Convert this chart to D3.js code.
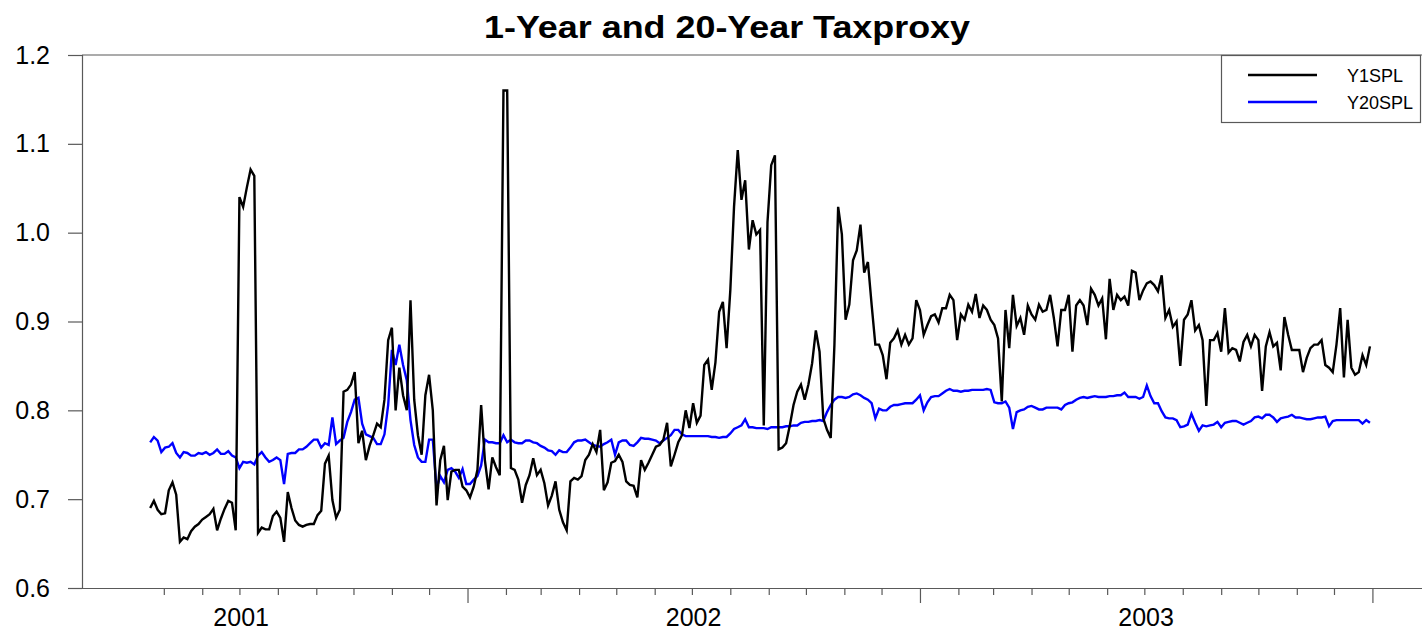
<!DOCTYPE html>
<html>
<head>
<meta charset="utf-8">
<script src="https://cdn.jsdelivr.net/npm/d3@7"></script>
<style>
  html, body { margin: 0; padding: 0; background: #fff; }
  svg { display: block; font-family: "Liberation Sans", Arial, sans-serif; }
</style>
</head>
<body>
<div id="chart"></div>
<script>
// Observations every 3 days, starting 20 Apr 2001
const firstObs = Date.UTC(2001, 3, 20);
const stepDays = 3;

const seriesNames = ["Y1SPL", "Y20SPL"];
const seriesColors = ["#000000", "#0000ff"];

const y1spl = [
  0.690, 0.698, 0.688, 0.683, 0.684, 0.710, 0.719, 0.705, 0.652, 0.657,
  0.655, 0.664, 0.669, 0.672, 0.677, 0.680, 0.683, 0.689, 0.665, 0.678,
  0.689, 0.698, 0.696, 0.665, 1.040, 1.029, 1.051, 1.071, 1.064, 0.662,
  0.668, 0.666, 0.666, 0.681, 0.686, 0.679, 0.652, 0.708, 0.690, 0.676,
  0.671, 0.669, 0.671, 0.672, 0.672, 0.682, 0.687, 0.740, 0.749, 0.699,
  0.679, 0.688, 0.821, 0.823, 0.829, 0.843, 0.763, 0.777, 0.744, 0.760,
  0.772, 0.785, 0.781, 0.812, 0.879, 0.893, 0.800, 0.848, 0.817, 0.800,
  0.924, 0.812, 0.772, 0.750, 0.817, 0.840, 0.800, 0.693, 0.744, 0.760,
  0.699, 0.731, 0.733, 0.733, 0.714, 0.710, 0.702, 0.714, 0.733, 0.806,
  0.744, 0.711, 0.747, 0.736, 0.727, 1.160, 1.160, 0.735, 0.733, 0.722,
  0.696, 0.716, 0.727, 0.746, 0.727, 0.733, 0.718, 0.693, 0.704, 0.720,
  0.688, 0.674, 0.665, 0.720, 0.724, 0.722, 0.726, 0.744, 0.750, 0.762,
  0.753, 0.778, 0.710, 0.719, 0.741, 0.743, 0.750, 0.742, 0.720, 0.716,
  0.715, 0.702, 0.744, 0.733, 0.741, 0.750, 0.759, 0.761, 0.767, 0.786,
  0.737, 0.750, 0.764, 0.772, 0.800, 0.780, 0.808, 0.786, 0.794, 0.851,
  0.857, 0.823, 0.854, 0.911, 0.922, 0.870, 0.935, 1.029, 1.093, 1.037,
  1.059, 0.981, 1.014, 0.998, 1.003, 0.783, 1.012, 1.076, 1.087, 0.756,
  0.758, 0.763, 0.783, 0.806, 0.821, 0.829, 0.812, 0.829, 0.853, 0.890,
  0.866, 0.791, 0.778, 0.769, 0.874, 1.029, 0.998, 0.902, 0.919, 0.969,
  0.980, 1.009, 0.955, 0.967, 0.919, 0.874, 0.874, 0.862, 0.835, 0.876,
  0.881, 0.890, 0.874, 0.885, 0.874, 0.881, 0.924, 0.913, 0.885, 0.896,
  0.906, 0.908, 0.899, 0.915, 0.915, 0.930, 0.924, 0.879, 0.908, 0.902,
  0.919, 0.911, 0.931, 0.904, 0.918, 0.913, 0.902, 0.896, 0.881, 0.810,
  0.913, 0.870, 0.930, 0.895, 0.904, 0.885, 0.918, 0.908, 0.902, 0.919,
  0.911, 0.913, 0.930, 0.904, 0.872, 0.913, 0.913, 0.930, 0.866, 0.918,
  0.924, 0.918, 0.896, 0.937, 0.930, 0.918, 0.926, 0.880, 0.948, 0.913,
  0.930, 0.924, 0.928, 0.918, 0.957, 0.955, 0.924, 0.935, 0.943, 0.945,
  0.941, 0.934, 0.952, 0.904, 0.913, 0.894, 0.900, 0.850, 0.902, 0.908,
  0.924, 0.890, 0.896, 0.879, 0.805, 0.879, 0.879, 0.887, 0.866, 0.915,
  0.865, 0.870, 0.868, 0.855, 0.877, 0.885, 0.872, 0.885, 0.879, 0.822,
  0.872, 0.888, 0.872, 0.876, 0.845, 0.905, 0.885, 0.868, 0.868, 0.868,
  0.843, 0.859, 0.870, 0.874, 0.874, 0.879, 0.851, 0.848, 0.843, 0.874,
  0.915, 0.837, 0.902, 0.848, 0.840, 0.843, 0.862, 0.851, 0.872
];

const y20spl = [
  0.764, 0.770, 0.766, 0.753, 0.758, 0.759, 0.763, 0.752, 0.747, 0.753,
  0.752, 0.749, 0.749, 0.752, 0.751, 0.753, 0.750, 0.752, 0.756, 0.751,
  0.751, 0.754, 0.749, 0.747, 0.735, 0.742, 0.741, 0.742, 0.739, 0.749,
  0.753, 0.747, 0.742, 0.744, 0.747, 0.744, 0.717, 0.751, 0.752, 0.752,
  0.756, 0.756, 0.759, 0.763, 0.767, 0.767, 0.758, 0.763, 0.761, 0.792,
  0.762, 0.766, 0.769, 0.787, 0.798, 0.812, 0.814, 0.785, 0.773, 0.771,
  0.769, 0.762, 0.762, 0.773, 0.806, 0.868, 0.851, 0.874, 0.851, 0.834,
  0.789, 0.761, 0.747, 0.742, 0.742, 0.767, 0.767, 0.712, 0.726, 0.719,
  0.733, 0.735, 0.731, 0.724, 0.734, 0.717, 0.717, 0.722, 0.726, 0.738,
  0.767, 0.764, 0.764, 0.763, 0.763, 0.772, 0.764, 0.767, 0.764, 0.763,
  0.763, 0.766, 0.766, 0.764, 0.763, 0.760, 0.758, 0.755, 0.754, 0.750,
  0.755, 0.753, 0.753, 0.758, 0.764, 0.766, 0.766, 0.767, 0.764, 0.761,
  0.760, 0.759, 0.762, 0.764, 0.767, 0.750, 0.764, 0.766, 0.766, 0.761,
  0.760, 0.764, 0.769, 0.768, 0.768, 0.767, 0.766, 0.763, 0.766, 0.769,
  0.772, 0.778, 0.778, 0.773, 0.771, 0.771, 0.771, 0.771, 0.771, 0.771,
  0.771, 0.770, 0.770, 0.769, 0.770, 0.770, 0.774, 0.779, 0.781, 0.783,
  0.790, 0.781, 0.781, 0.780, 0.780, 0.780, 0.779, 0.781, 0.781, 0.781,
  0.781, 0.782, 0.782, 0.783, 0.783, 0.786, 0.787, 0.787, 0.788, 0.788,
  0.789, 0.788, 0.798, 0.806, 0.812, 0.815, 0.815, 0.814, 0.815, 0.818,
  0.819, 0.817, 0.814, 0.812, 0.808, 0.791, 0.802, 0.800, 0.800, 0.804,
  0.806, 0.806, 0.807, 0.808, 0.808, 0.808, 0.812, 0.817, 0.800, 0.809,
  0.815, 0.816, 0.816, 0.819, 0.822, 0.824, 0.822, 0.822, 0.821, 0.822,
  0.822, 0.823, 0.823, 0.823, 0.823, 0.824, 0.823, 0.809, 0.808, 0.808,
  0.810, 0.803, 0.779, 0.798, 0.800, 0.801, 0.804, 0.805, 0.803, 0.801,
  0.801, 0.803, 0.803, 0.803, 0.803, 0.801, 0.806, 0.808, 0.809, 0.812,
  0.814, 0.815, 0.814, 0.815, 0.816, 0.815, 0.815, 0.815, 0.816, 0.816,
  0.817, 0.817, 0.820, 0.815, 0.815, 0.815, 0.813, 0.815, 0.828, 0.816,
  0.808, 0.808, 0.799, 0.792, 0.791, 0.791, 0.789, 0.781, 0.782, 0.784,
  0.796, 0.786, 0.777, 0.783, 0.782, 0.783, 0.784, 0.787, 0.781, 0.786,
  0.787, 0.788, 0.788, 0.786, 0.784, 0.786, 0.788, 0.792, 0.793, 0.791,
  0.795, 0.795, 0.792, 0.787, 0.791, 0.792, 0.793, 0.795, 0.792, 0.792,
  0.791, 0.790, 0.790, 0.791, 0.792, 0.792, 0.793, 0.782, 0.788, 0.789,
  0.789, 0.789, 0.789, 0.789, 0.789, 0.789, 0.785, 0.789, 0.786
];

const yTicks = [0.6, 0.7, 0.8, 0.9, 1.0, 1.1, 1.2];
const yearLabels = [2001, 2002, 2003];

const width = 1422, height = 634;
const margin = { top: 55, right: 0, bottom: 46, left: 82 };

const dates = y1spl.map((d, i) => new Date(firstObs + i * stepDays * 864e5));

const svg = d3.select("#chart").append("svg")
  .attr("width", width)
  .attr("height", height);

const x = d3.scaleUtc()
  .domain([new Date(Date.UTC(2001, 1, 24)), new Date(Date.UTC(2004, 1, 10))])
  .range([margin.left, width - margin.right]);

const y = d3.scaleLinear()
  .domain([0.6, 1.2])
  .range([height - margin.bottom, margin.top]);

const axisColor = "#595959";

// title (reference is drawn a little wide)
svg.append("text")
  .attr("x", 727)
  .attr("y", 38)
  .attr("text-anchor", "middle")
  .attr("textLength", 486)
  .attr("lengthAdjust", "spacingAndGlyphs")
  .style("font-size", "32px")
  .style("font-weight", "bold")
  .text("1-Year and 20-Year Taxproxy");

// frame: top edge
svg.append("line")
  .attr("x1", margin.left).attr("x2", width)
  .attr("y1", y(1.2)).attr("y2", y(1.2))
  .style("stroke", axisColor).style("stroke-width", 1.2);

// y axis
const yAxis = svg.append("g")
  .attr("transform", `translate(${margin.left},0)`)
  .call(d3.axisLeft(y).tickValues(yTicks).tickFormat(d3.format(".1f"))
    .tickSize(14).tickPadding(18));
yAxis.select(".domain").style("stroke", axisColor).style("stroke-width", 1.2);
yAxis.selectAll(".tick line").style("stroke", axisColor).style("stroke-width", 1.2);
yAxis.selectAll(".tick text")
  .style("font-size", "25px")
  .style("fill", "#000")
  .style("font-family", "'Liberation Sans', Arial, sans-serif");

// x axis: monthly ticks, longer ticks at year starts
const months = d3.utcMonth.range(new Date(Date.UTC(2001, 4, 1)), new Date(Date.UTC(2004, 0, 2)));
const xAxis = svg.append("g")
  .attr("transform", `translate(0,${y(0.6)})`)
  .call(d3.axisBottom(x).tickValues(months).tickFormat("").tickSize(7).tickSizeOuter(0));
xAxis.select(".domain")
  .attr("d", `M${margin.left - 14},0.5H${width}`)
  .style("stroke", axisColor).style("stroke-width", 1.2);
xAxis.selectAll(".tick line")
  .style("stroke", axisColor).style("stroke-width", 1.2)
  .attr("y2", d => d.getUTCMonth() === 0 ? 15 : 7);

// year labels centred in each year
const yearMid = yearLabels.map(yr => new Date(Date.UTC(yr, 6, 2)));
const yearAxis = svg.append("g")
  .attr("transform", `translate(0,${y(0.6)})`)
  .call(d3.axisBottom(x).tickValues(yearMid).tickFormat(d3.utcFormat("%Y")).tickSize(0).tickPadding(20));
yearAxis.select(".domain").remove();
yearAxis.selectAll(".tick text")
  .style("font-size", "25px")
  .style("fill", "#000")
  .style("font-family", "'Liberation Sans', Arial, sans-serif");

// series
const line = d3.line()
  .x((d, i) => x(dates[i]))
  .y(d => y(d));

const allSeries = [y1spl, y20spl];
svg.append("g")
  .selectAll("path")
  .data([1, 0])
  .enter()
  .append("path")
  .attr("d", k => line(allSeries[k]))
  .style("fill", "none")
  .style("stroke", k => seriesColors[k])
  .style("stroke-width", 2.4)
  .style("stroke-linejoin", "miter");

// legend
const legend = svg.append("g");
legend.append("rect")
  .attr("x", 1221.5).attr("y", 55.5)
  .attr("width", 199).attr("height", 67)
  .style("fill", "#fff")
  .style("stroke", axisColor)
  .style("stroke-width", 1.2);

const legendItem = legend.selectAll("g.item")
  .data(seriesNames)
  .enter()
  .append("g")
  .attr("class", "item")
  .attr("transform", (d, i) => `translate(0,${75 + i * 27})`);

legendItem.append("line")
  .attr("x1", 1248).attr("x2", 1317)
  .style("stroke", (d, i) => seriesColors[i])
  .style("stroke-width", 2.4);

legendItem.append("text")
  .attr("x", 1347)
  .attr("y", 7)
  .style("font-size", "18px")
  .text(d => d);
</script>
</body>
</html>
